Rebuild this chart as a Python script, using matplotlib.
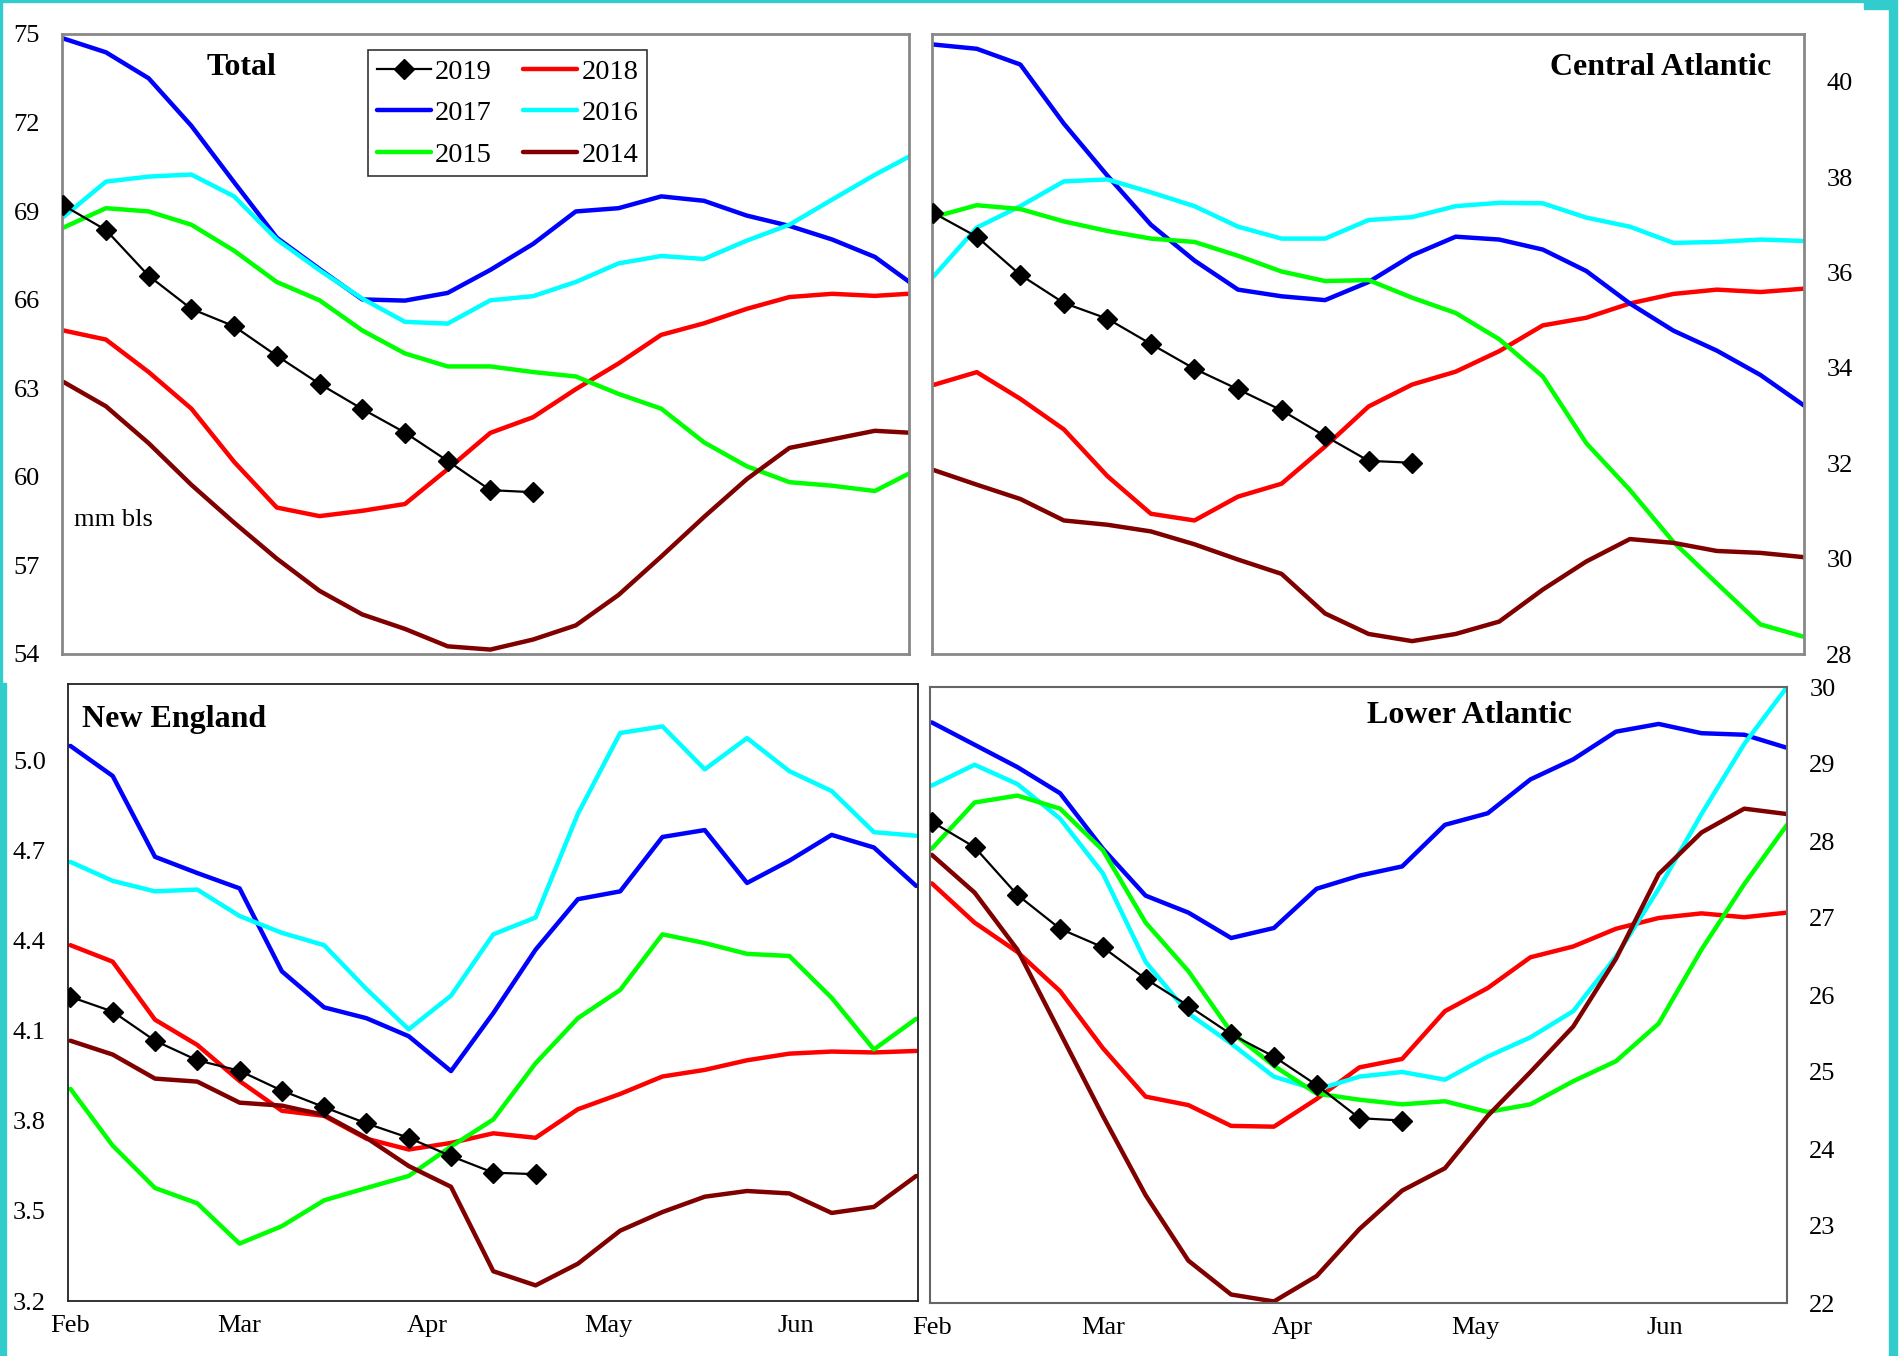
# weekly gasoline inventories by region, 2014-2019
# four panels: Total, Central Atlantic, New England, Lower Atlantic

import numpy as np
import pandas as pd
import matplotlib
matplotlib.use('Agg')
import matplotlib.pyplot as plt
import matplotlib.dates as mdates
from matplotlib.patches import Rectangle

plt.rcParams['font.family'] = ['Liberation Serif', 'DejaVu Serif']

# weekly dates (Fridays), Feb 1 .. Jun 21
weeks = pd.date_range('2019-02-01', periods=21, freq='7D')
years = ['2019', '2018', '2017', '2016', '2015', '2014']

# Total (mm bls)
total_2019 = [69.2, 68.36, 66.81, 65.69, 65.1, 64.1, 63.15, 62.3, 61.5, 60.54, 59.55, 59.48]
total_2018 = [64.96, 64.65, 63.55, 62.31, 60.51, 58.96, 58.67, 58.85, 59.08, 60.26, 61.49,
              62.02, 62.97, 63.84, 64.81, 65.2, 65.69, 66.09, 66.2, 66.13, 66.22]
total_2017 = [74.85, 74.38, 73.5, 71.89, 69.98, 68.1, 67.04, 66.01, 65.97, 66.23, 67.01,
              67.89, 68.99, 69.1, 69.5, 69.35, 68.85, 68.5, 68.04, 67.45, 66.4]
total_2016 = [68.8, 70.0, 70.17, 70.24, 69.5, 68.04, 67.0, 66.04, 65.25, 65.19, 65.98,
              66.12, 66.6, 67.23, 67.48, 67.38, 68.0, 68.54, 69.39, 70.23, 71.0]
total_2015 = [68.44, 69.1, 68.99, 68.54, 67.66, 66.6, 65.98, 64.96, 64.18, 63.74, 63.74,
              63.55, 63.4, 62.81, 62.31, 61.17, 60.36, 59.82, 59.7, 59.52, 60.26]
total_2014 = [63.22, 62.39, 61.14, 59.73, 58.45, 57.23, 56.14, 55.34, 54.85, 54.26, 54.15,
              54.49, 54.97, 56.0, 57.3, 58.64, 59.92, 60.98, 61.27, 61.56, 61.48]

# Central Atlantic
central_2019 = [37.25, 36.75, 35.95, 35.36, 35.03, 34.5, 33.98, 33.55, 33.11, 32.57, 32.05, 32.01]
central_2018 = [33.64, 33.91, 33.35, 32.71, 31.73, 30.94, 30.8, 31.3, 31.57, 32.35, 33.19,
                33.65, 33.92, 34.35, 34.89, 35.05, 35.35, 35.55, 35.64, 35.59, 35.66]
central_2017 = [40.78, 40.69, 40.36, 39.12, 38.03, 37.0, 36.25, 35.64, 35.5, 35.42, 35.8,
                36.36, 36.75, 36.69, 36.48, 36.03, 35.35, 34.78, 34.36, 33.85, 33.21]
central_2016 = [35.91, 36.94, 37.39, 37.91, 37.95, 37.68, 37.39, 36.96, 36.71, 36.71, 37.1,
                37.16, 37.39, 37.46, 37.45, 37.15, 36.96, 36.62, 36.64, 36.69, 36.66]
central_2015 = [37.16, 37.41, 37.33, 37.07, 36.87, 36.71, 36.64, 36.35, 36.02, 35.82, 35.84,
                35.47, 35.15, 34.6, 33.82, 32.42, 31.44, 30.35, 29.48, 28.62, 28.36]
central_2014 = [31.86, 31.55, 31.25, 30.8, 30.71, 30.57, 30.3, 29.98, 29.68, 28.85, 28.42,
                28.27, 28.42, 28.68, 29.35, 29.94, 30.41, 30.33, 30.16, 30.12, 30.03]

# New England
ne_2019 = [4.212, 4.163, 4.066, 4.001, 3.966, 3.9, 3.845, 3.791, 3.743, 3.682, 3.627, 3.622]
ne_2018 = [4.384, 4.329, 4.136, 4.052, 3.932, 3.833, 3.816, 3.74, 3.704, 3.726, 3.758,
           3.743, 3.838, 3.889, 3.947, 3.969, 4.001, 4.023, 4.03, 4.027, 4.032]
ne_2017 = [5.047, 4.947, 4.678, 4.624, 4.573, 4.297, 4.177, 4.141, 4.081, 3.965, 4.158,
           4.369, 4.537, 4.563, 4.744, 4.767, 4.591, 4.665, 4.751, 4.709, 4.581]
ne_2016 = [4.661, 4.598, 4.563, 4.569, 4.481, 4.425, 4.384, 4.238, 4.104, 4.216, 4.42,
           4.476, 4.821, 5.09, 5.112, 4.969, 5.073, 4.963, 4.897, 4.76, 4.748]
ne_2015 = [3.906, 3.717, 3.576, 3.525, 3.391, 3.449, 3.535, 3.576, 3.616, 3.714, 3.804,
           3.991, 4.141, 4.235, 4.42, 4.391, 4.355, 4.348, 4.209, 4.037, 4.139]
ne_2014 = [4.066, 4.02, 3.94, 3.93, 3.86, 3.85, 3.819, 3.743, 3.649, 3.58, 3.299,
           3.252, 3.324, 3.434, 3.496, 3.547, 3.566, 3.558, 3.493, 3.513, 3.616]

# Lower Atlantic
lower_2019 = [28.25, 27.92, 27.3, 26.86, 26.62, 26.21, 25.86, 25.49, 25.2, 24.83, 24.4, 24.37]
lower_2018 = [27.45, 26.94, 26.56, 26.05, 25.31, 24.68, 24.57, 24.3, 24.29, 24.65, 25.06,
              25.17, 25.79, 26.09, 26.49, 26.63, 26.86, 27.0, 27.06, 27.01, 27.07]
lower_2017 = [29.54, 29.25, 28.96, 28.62, 27.9, 27.29, 27.07, 26.74, 26.87, 27.38, 27.55,
              27.67, 28.21, 28.36, 28.8, 29.06, 29.42, 29.52, 29.4, 29.38, 29.21]
lower_2016 = [28.72, 28.99, 28.74, 28.29, 27.58, 26.43, 25.76, 25.37, 24.94, 24.77, 24.94,
              25.0, 24.9, 25.2, 25.45, 25.79, 26.5, 27.38, 28.35, 29.26, 30.0]
lower_2015 = [27.9, 28.5, 28.59, 28.42, 27.88, 26.94, 26.31, 25.52, 25.08, 24.72, 24.64,
              24.58, 24.62, 24.48, 24.58, 24.88, 25.14, 25.63, 26.59, 27.44, 28.21]
lower_2014 = [27.82, 27.33, 26.59, 25.51, 24.43, 23.4, 22.55, 22.11, 22.02, 22.35, 22.96,
              23.46, 23.75, 24.43, 25.0, 25.59, 26.47, 27.57, 28.11, 28.42, 28.35]

colors = {'2019': 'black', '2018': '#FF0000', '2017': '#0000FF',
          '2016': '#00FFFF', '2015': '#00FF00', '2014': '#800000'}
draw_order = ['2018', '2019', '2017', '2016', '2015', '2014']
legend_order = ['2019', '2017', '2015', '2018', '2016', '2014']

W, H = 1900, 1356
fig = plt.figure(figsize=(W / 100, H / 100), dpi=100)
fig.patch.set_facecolor('white')


def px_axes(left, top, right, bottom):
    # axes from pixel box
    return fig.add_axes([left / W, 1 - bottom / H, (right - left) / W, (bottom - top) / H])


def draw_panel(ax, series, title, title_pos, title_ha, ylim, yticks, yfmt,
               right_ticks, xlim_days, show_x, spine_color, spine_lw):
    handles = {}
    for yr in draw_order:
        vals = series[yr]
        x = weeks[:len(vals)]
        if yr == '2019':
            h, = ax.plot(x, vals, color='black', lw=1.6, marker='D', ms=10,
                         markeredgecolor='black', zorder=3)
        else:
            h, = ax.plot(x, vals, color=colors[yr], lw=3.2, solid_capstyle='round', zorder=2)
        handles[yr] = h

    ax.set_ylim(*ylim)
    ax.set_yticks(yticks)
    ax.set_yticklabels([yfmt.format(v) for v in yticks])
    ax.set_xlim(weeks[0] - pd.Timedelta(days=xlim_days[0]),
                weeks[0] + pd.Timedelta(days=xlim_days[1]))
    ax.xaxis.set_major_locator(mdates.MonthLocator())
    ax.xaxis.set_major_formatter(mdates.DateFormatter('%b'))
    ax.tick_params(length=0, labelsize=19)
    ax.tick_params(axis='y', pad=16)
    ax.tick_params(axis='x', pad=10)
    if not show_x:
        ax.set_xticklabels([])
    if right_ticks:
        ax.yaxis.tick_right()
    for s in ax.spines.values():
        s.set_color(spine_color)
        s.set_linewidth(spine_lw)
    ax.text(title_pos[0], title_pos[1], title, transform=ax.transAxes,
            fontsize=23, fontweight='bold', ha=title_ha, va='center')
    return handles


ax1 = px_axes(62, 34, 909, 654)
h1 = draw_panel(ax1, dict(zip(years, [total_2019, total_2018, total_2017, total_2016,
                                      total_2015, total_2014])),
                'Total', (0.212, 0.946), 'center', (54, 75), list(range(54, 76, 3)), '{:.0f}',
                False, (0.2, 138.6), False, '#888888', 2.0)
ax1.text(0.0137, 0.216, 'mm bls', transform=ax1.transAxes, fontsize=19, ha='left', va='center')
leg = ax1.legend([h1[y] for y in legend_order], legend_order, ncol=2, loc='upper left',
                 bbox_to_anchor=(0.3616, 0.974), borderaxespad=0, fontsize=20.5,
                 handlelength=1.9, handletextpad=0.15, columnspacing=1.1,
                 labelspacing=0.55, borderpad=0.3, fancybox=False, framealpha=1)
leg.get_frame().set_edgecolor('#333333')
leg.get_frame().set_linewidth(1.2)

ax2 = px_axes(932, 34, 1804, 654)
draw_panel(ax2, dict(zip(years, [central_2019, central_2018, central_2017, central_2016,
                                 central_2015, central_2014])),
           'Central Atlantic', (0.962, 0.946), 'right', (28, 41), list(range(28, 41, 2)),
           '{:.0f}', True, (0.2, 140), False, '#888888', 2.0)

ax3 = px_axes(68, 684, 918, 1301)
draw_panel(ax3, dict(zip(years, [ne_2019, ne_2018, ne_2017, ne_2016, ne_2015, ne_2014])),
           'New England', (0.016, 0.942), 'left', (3.2, 5.253),
           [3.2, 3.5, 3.8, 4.1, 4.4, 4.7, 5.0], '{:.1f}',
           False, (0.4, 140.3), True, '#222222', 1.3)

ax4 = px_axes(930, 687, 1787, 1303)
draw_panel(ax4, dict(zip(years, [lower_2019, lower_2018, lower_2017, lower_2016,
                                 lower_2015, lower_2014])),
           'Lower Atlantic', (0.629, 0.954), 'center', (22, 30), list(range(22, 31, 1)),
           '{:.0f}', True, (0.3, 140), True, '#666666', 1.5)

# cyan slide frame
cyan = '#33CCCC'
for (x, y, w, h) in [(0, 0, 1890, 2), (1864, 0, 30, 9), (1889, 0, 8, H),
                     (0, 0, 2, 683), (0, 683, 6, H - 683)]:
    fig.patches.append(Rectangle((x / W, 1 - (y + h) / H), w / W, h / H,
                                 transform=fig.transFigure, color=cyan, zorder=10))

fig.savefig('out.png', dpi=100)
